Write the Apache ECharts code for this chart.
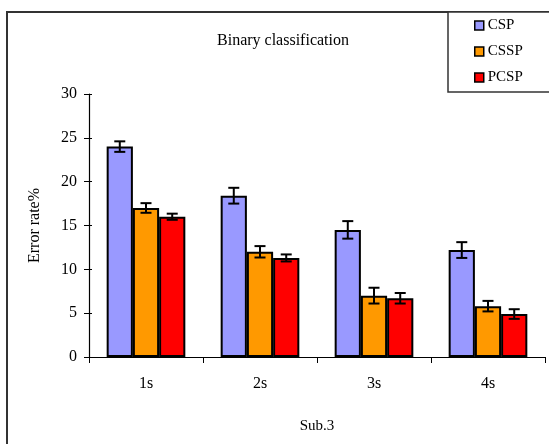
<!DOCTYPE html>
<html><head><meta charset="utf-8">
<script src="https://cdn.jsdelivr.net/npm/echarts@6/dist/echarts.min.js"></script>
<style>html,body{margin:0;padding:0;background:#fff}#c{width:549px;height:444px}</style>
</head><body><div id="c"></div>
<script>
const categories = ['1s', '2s', '3s', '4s'];
const seriesNames = ['CSP', 'CSSP', 'PCSP'];
const cspValues = [24.0, 18.4, 14.5, 12.2];
const cspErrors = [0.6, 0.9, 1.0, 0.9];
const csspValues = [17.0, 12.0, 7.0, 5.8];
const csspErrors = [0.55, 0.65, 0.9, 0.6];
const pcspValues = [16.0, 11.3, 6.7, 4.9];
const pcspErrors = [0.35, 0.4, 0.6, 0.55];
const yTicks = [0, 5, 10, 15, 20, 25, 30];

const colors = ['#9999FF', '#FF9900', '#FF0000'];
const values = [cspValues, csspValues, pcspValues];
const errors = [cspErrors, csspErrors, pcspErrors];
const GAP = 0.31;
const FONT = 'Liberation Serif';

const chart = echarts.init(document.getElementById('c'));
const series = [];
values.forEach((vals, i) => {
  series.push({
    name: seriesNames[i], type: 'bar', data: vals, barGap: '0%', barCategoryGap: (GAP * 100) + '%',
    itemStyle: { color: colors[i], borderColor: '#000', borderWidth: 2 }, z: 2
  });
});
values.forEach((vals, i) => {
  series.push({
    name: seriesNames[i] + '-err', type: 'custom', z: 5,
    data: vals.map((v, k) => [k, v, errors[i][k]]),
    renderItem: function (params, api) {
      const k = api.value(0), v = api.value(1), e = api.value(2);
      const band = api.size([1, 0])[0];
      const bw = band * (1 - GAP) / 3;
      const c = api.coord([k, v]);
      const x = c[0] + (i - 1) * bw;
      const yHi = api.coord([k, v + e])[1];
      const yLo = api.coord([k, v - e])[1];
      const cap = 5.5;
      const st = { stroke: '#000', lineWidth: 2 };
      return { type: 'group', children: [
        { type: 'line', shape: { x1: x, y1: yHi, x2: x, y2: yLo }, style: st },
        { type: 'line', shape: { x1: x - cap, y1: yHi, x2: x + cap, y2: yHi }, style: st },
        { type: 'line', shape: { x1: x - cap, y1: yLo, x2: x + cap, y2: yLo }, style: st }
      ]};
    }
  });
});

chart.setOption({
  animation: false,
  backgroundColor: '#fff',
  title: { text: 'Binary classification', left: 278, top: 28, textAlign: 'center',
    textStyle: { fontFamily: FONT, fontSize: 16, fontWeight: 'normal', color: '#000' } },
  legend: {
    data: seriesNames, orient: 'vertical', left: 469, top: 13, itemWidth: 9, itemHeight: 9, itemGap: 11,
    icon: 'rect',
    itemStyle: { borderColor: '#000', borderWidth: 1.5 },
    textStyle: { fontFamily: FONT, fontSize: 15, color: '#000', padding: [0, 0, 0, -1] }
  },
  graphic: [
    { type: 'rect', shape: { x: 7, y: 12, width: 700, height: 600 }, style: { fill: 'none', stroke: '#333', lineWidth: 2 }, silent: true, z: -1 },
    { type: 'rect', shape: { x: 448, y: 12, width: 200, height: 80 }, style: { fill: '#fff', stroke: '#333', lineWidth: 1.5 }, silent: true, z: 0 }
  ],
  grid: { left: 89, right: 4, top: 94, bottom: 87 },
  xAxis: {
    type: 'category', data: categories,
    name: 'Sub.3', nameLocation: 'middle', nameGap: 62,
    nameTextStyle: { fontFamily: FONT, fontSize: 15, color: '#000' },
    axisLine: { lineStyle: { color: '#000', width: 1.2 } },
    axisTick: { show: true, alignWithLabel: false, length: 6, lineStyle: { color: '#000' } },
    axisLabel: { fontFamily: FONT, fontSize: 16, color: '#000', margin: 19 }
  },
  yAxis: [{
    type: 'value', min: 0, max: 30, interval: 5,
    name: 'Error rate%', nameLocation: 'middle', nameGap: 46,
    nameTextStyle: { fontFamily: FONT, fontSize: 16, color: '#000' },
    axisLine: { show: true, lineStyle: { color: '#000', width: 1.2 } },
    axisTick: { show: true, length: 5, lineStyle: { color: '#000' } },
    axisLabel: { fontFamily: FONT, fontSize: 16, color: '#000', margin: 12,
      formatter: v => yTicks.includes(v) ? String(v) : '' },
    splitLine: { show: false }
  }, {
    type: 'value', min: 0, max: 30, interval: 5, position: 'left', offset: 0,
    axisLine: { show: false },
    axisTick: { show: true, inside: true, length: 3, lineStyle: { color: '#000' } },
    axisLabel: { show: false }, splitLine: { show: false }
  }],
  series: series
});
</script></body></html>
